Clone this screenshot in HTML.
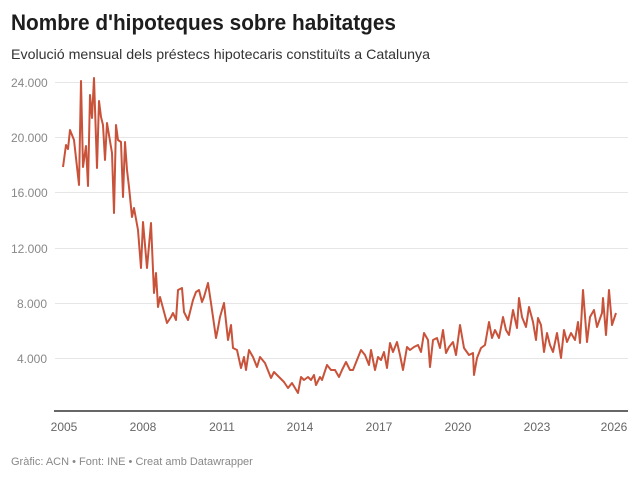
<!DOCTYPE html>
<html><head><meta charset="utf-8"><style>
html,body{margin:0;padding:0;background:#fff;}
svg{display:block;font-family:"Liberation Sans",sans-serif;}
</style></head><body>
<svg width="640" height="478" viewBox="0 0 640 478">
<text x="11" y="30" font-size="22" font-weight="bold" fill="#1d1d1d" textLength="385" lengthAdjust="spacingAndGlyphs">Nombre d'hipoteques sobre habitatges</text>
<text x="11" y="59" font-size="14" fill="#333" textLength="419" lengthAdjust="spacingAndGlyphs">Evolució mensual dels préstecs hipotecaris constituïts a Catalunya</text>
<g stroke="#e6e6e6" stroke-width="1">
<line x1="55" x2="628" y1="82.5" y2="82.5"/>
<line x1="55" x2="628" y1="137.5" y2="137.5"/>
<line x1="55" x2="628" y1="192.5" y2="192.5"/>
<line x1="55" x2="628" y1="248.5" y2="248.5"/>
<line x1="55" x2="628" y1="303.5" y2="303.5"/>
<line x1="55" x2="628" y1="358.5" y2="358.5"/>
</g>
<line x1="54" x2="628" y1="411" y2="411" stroke="#333" stroke-width="1.5"/>
<g font-size="12" fill="#888">
<text x="11" y="87">24.000</text>
<text x="11" y="142">20.000</text>
<text x="11" y="197">16.000</text>
<text x="11" y="253">12.000</text>
<text x="17" y="308">8.000</text>
<text x="17" y="363">4.000</text>
</g>
<g font-size="12" fill="#666" text-anchor="middle">
<text x="64" y="431">2005</text>
<text x="143" y="431">2008</text>
<text x="222" y="431">2011</text>
<text x="300" y="431">2014</text>
<text x="379" y="431">2017</text>
<text x="458" y="431">2020</text>
<text x="537" y="431">2023</text>
<text x="614" y="431">2026</text>
</g>
<polyline fill="none" stroke="#c9533a" stroke-width="2" stroke-linejoin="round" points="63,167 66,145 68,149 70,130 74,140 79,185 81,81 83,167 86,146 88,186 90,95 92,118 94,78 97,168 99,101 101,117 103,125 105,160 107,123 112,153 114,213 116,125 118,140 121,142 123,197 125,142 127,170 129,187 132,217 134,208 138,230 141,268 143,222 147,268 151,223 153,270 154,293 156,273 158,307 160,297 167,323 171,317 173,313 176,320 178,290 182,288 184,312 188,320 193,300 196,292 199,290 202,302 204,297 208,283 211,303 216,338 218,328 220,317 224,303 228,340 231,325 233,348 237,350 241,368 244,357 246,370 249,350 253,357 257,367 260,357 265,363 271,378 274,372 280,378 284,382 288,388 292,383 295,388 298,393 301,377 304,380 308,377 311,380 314,375 316,385 320,377 322,380 327,365 331,370 335,370 339,377 342,370 346,362 350,370 353,370 357,360 361,350 365,355 369,365 371,350 375,370 378,357 381,360 384,352 387,368 390,343 393,352 397,342 400,355 403,370 407,347 410,350 414,347 418,345 421,352 424,333 428,340 430,367 433,340 437,338 440,348 443,330 446,353 449,347 453,342 456,355 460,325 464,348 469,355 473,353 474,375 477,358 481,348 485,345 489,322 492,338 495,330 499,338 503,317 506,330 509,335 513,310 517,328 519,298 522,317 526,327 529,307 533,322 536,340 538,318 541,325 544,352 547,333 550,345 553,352 557,333 561,358 564,330 567,342 571,333 575,340 578,322 580,343 583,290 587,342 590,317 594,310 597,327 602,313 603,298 606,335 609,290 612,325 616,313"/>
<text x="11" y="465" font-size="11" fill="#888">Gràfic: ACN • Font: INE • Creat amb Datawrapper</text>
</svg>
</body></html>
